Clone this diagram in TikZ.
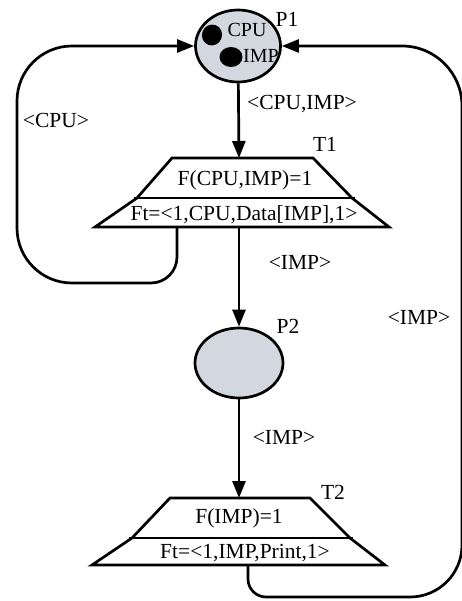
\documentclass[tikz,border=0pt]{standalone}
\usepackage{fontspec}
\setmainfont{Liberation Serif}
\usetikzlibrary{shapes.geometric,arrows.meta}
\definecolor{placefill}{HTML}{D3D7DF}
\tikzset{
  lw/.style={line width=2.7pt},
  place/.style={ellipse, draw, lw, fill=placefill, inner sep=0pt},
  token/.style={ellipse, fill=black, inner sep=0pt},
  arr/.style={lw, -{Triangle[length=17pt,width=13pt]}},
  lbl/.style={font=\fontsize{21.5}{25}\selectfont, inner sep=0pt},
  trans/.style={lw, line join=miter, fill=white},
}
\begin{document}
\begin{tikzpicture}[x=1pt,y=-1pt]
\useasboundingbox (0,0) rectangle (462,601);
\fill[white] (0,0) rectangle (462,601);

% places
\node[place, minimum width=85pt, minimum height=72pt] (P1) at (238,46) {};
\node[token, minimum width=20pt, minimum height=21pt, rotate=-20] (tok1) at (212,35) {};
\node[token, minimum width=23pt, minimum height=20pt] (tok2) at (231,57) {};
\node[lbl, font=\fontsize{20}{22}\selectfont] (cpu) at (247,30) {CPU};
\node[lbl, font=\fontsize{20}{22}\selectfont] (imp) at (261,56) {IMP};
\node[lbl] (P1l) at (287,19) {P1};

\node[place, minimum width=88pt, minimum height=70pt] (P2) at (239,363) {};
\node[lbl] (P2l) at (288,326) {P2};

% transition T1
\coordinate (T1top) at (239,158);
\coordinate (T1bot) at (239,227);
\coordinate (T1left) at (177,227);
\draw[trans] (172,158) -- (313,158) -- (352,198) -- (389,227) -- (95,227) -- (137,198) -- cycle;
\draw[lw] (134,198) -- (355,198);
\node[lbl] (T1a) at (245,180) {F(CPU,IMP)=1};
\node[lbl] (T1b) at (244,215) {Ft=<1,CPU,Data[IMP],1>};
\node[lbl] (T1l) at (325,144) {T1};

% transition T2
\coordinate (T2top) at (239,498);
\coordinate (T2bot) at (248,565);
\draw[trans] (170,498) -- (310,498) -- (350,538) -- (385,565) -- (92,565) -- (132,538) -- cycle;
\draw[lw] (129,538) -- (353,538);
\node[lbl] (T2a) at (239,518) {F(IMP)=1};
\node[lbl] (T2b) at (245,553) {Ft=<1,IMP,Print,1>};
\node[lbl] (T2l) at (333,492) {T2};

% arcs
\draw[arr] (P1) -- (T1top);
\node[lbl] (a1) at (302,104) {<CPU,IMP>};
\draw[arr] (T1bot) -- (P2);
\node[lbl] (a2) at (300,262) {<IMP>};
\draw[arr] (P2) -- (T2top);
\node[lbl] (a3) at (284,437) {<IMP>};

\draw[arr] (T1left) [rounded corners=26pt] -- (177,283) [rounded corners=55pt] -- (17,283) -- (17,46) -- (P1.west);
\node[lbl] (a4) at (56,120) {<CPU>};

\draw[arr] (T2bot) [rounded corners=18pt] -- (248,597) [rounded corners=52pt] -- (462,597) [rounded corners=60pt] -- (462,46) -- (P1.east);
\node[lbl] (a5) at (419,317) {<IMP>};
\end{tikzpicture}
\end{document}
